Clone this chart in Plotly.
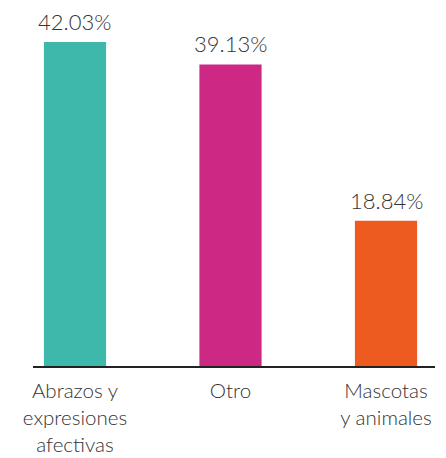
import plotly.graph_objects as go

categories = ["Abrazos y<br>expresiones<br>afectivas", "Otro", "Mascotas<br>y animales"]
values = [42.03, 39.13, 18.84]
value_labels = ["42.03%", "39.13%", "18.84%"]
colors = ["#3DB8AA", "#CD2984", "#EE5B21"]

FONT = "Lato"
fig = go.Figure()
fig.add_trace(go.Bar(
    x=list(range(len(categories))), y=values,
    marker=dict(color=colors, line=dict(width=0)),
    width=0.4, hoverinfo="skip",
))
for i, (v, t) in enumerate(zip(values, value_labels)):
    fig.add_annotation(x=i, y=v, text=t, showarrow=False, yanchor="bottom",
                       yshift=5, font=dict(family=FONT, size=22, color="#333333", weight=300))

fig.update_layout(
    width=446, height=458,
    margin=dict(l=33, r=11, t=30, b=92, autoexpand=False),
    paper_bgcolor="white", plot_bgcolor="white",
    showlegend=False,
    xaxis=dict(range=[-0.27, 2.315], tickmode="array", tickvals=list(range(len(categories))),
               ticktext=categories, showgrid=False, zeroline=False, automargin=False,
               showline=True, linecolor="#222222", linewidth=1.5,
               ticks="", ticklabelstandoff=6,
               tickfont=dict(family=FONT, size=20.5, color="#333333", weight=300)),
    yaxis=dict(range=[0, 43.59], visible=False, showgrid=False, zeroline=False, automargin=False),
)
fig.write_html("out.html", config={"displayModeBar": False},
               post_script="document.body.style.margin='0';document.body.style.overflow='hidden';")
